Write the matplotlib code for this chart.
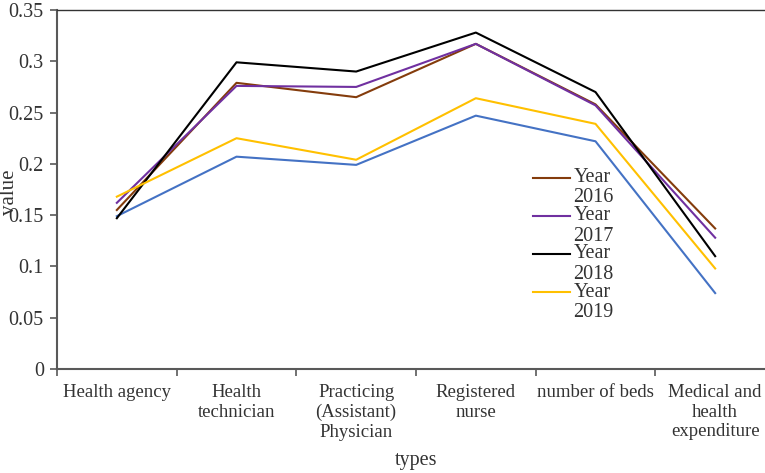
import numpy as np
import matplotlib
matplotlib.use('Agg')
import matplotlib.pyplot as plt
from matplotlib.legend_handler import HandlerLine2D

plt.rcParams['font.family'] = ['Liberation Serif', 'DejaVu Serif']

types = ['Health agency', 'Health\ntechnician', 'Practicing\n(Assistant)\nPhysician',
         'Registered\nnurse', 'number of beds', 'Medical and\nhealth\nexpenditure']

year_2015 = [0.149, 0.207, 0.199, 0.247, 0.222, 0.074]   # blue, not in legend
year_2016 = [0.155, 0.279, 0.265, 0.317, 0.258, 0.137]
year_2017 = [0.162, 0.276, 0.275, 0.317, 0.257, 0.128]
year_2018 = [0.147, 0.299, 0.290, 0.328, 0.270, 0.110]
year_2019 = [0.168, 0.225, 0.204, 0.264, 0.239, 0.098]

x = np.arange(len(types))


class UpperHandler(HandlerLine2D):
    # put the legend line next to the first text line
    def create_artists(self, legend, orig_handle, xdescent, ydescent, width,
                       height, fontsize, trans):
        arts = super().create_artists(legend, orig_handle, xdescent, ydescent,
                                      width, height, fontsize, trans)
        for a in arts:
            a.set_ydata(np.asarray(a.get_ydata()) + 0.5 * fontsize)
        return arts


fig = plt.figure(figsize=(7.65, 4.73), dpi=100)
ax = fig.add_axes([57/765, 104/473, 718/765, 359/473])

ax.plot(x, year_2015, color='#4472C4', lw=1.5)
l16, = ax.plot(x, year_2016, color='#843C0C', lw=1.5, label='Year\n2016')
l17, = ax.plot(x, year_2017, color='#7030A0', lw=1.5, label='Year\n2017')
l18, = ax.plot(x, year_2018, color='#000000', lw=1.5, label='Year\n2018')
l19, = ax.plot(x, year_2019, color='#FFC000', lw=1.5, label='Year\n2019')

ax.set_xlim(-0.5, 5.5)
ax.set_ylim(0, 0.35)
ax.set_yticks(np.arange(0, 0.351, 0.05))
ax.set_yticklabels(['0', '0.05', '0.1', '0.15', '0.2', '0.25', '0.3', '0.35'])

ax.set_xticks(np.arange(-0.5, 5.6, 1.0))
ax.set_xticklabels([])
ax.set_xticks(x, minor=True)
ax.set_xticklabels(types, minor=True, linespacing=1.2)
ax.tick_params(axis='x', which='minor', length=0, pad=11, labelsize=13.5, labelcolor='#333333')
ax.tick_params(axis='x', which='major', length=5, color='#595959', width=1.2)
ax.tick_params(axis='y', length=5, pad=4.5, labelsize=14.5, labelcolor='#333333',
               color='#595959', width=1.2)

for s in ['left', 'bottom']:
    ax.spines[s].set_color('#595959')
    ax.spines[s].set_linewidth(1.5)
ax.spines['top'].set_color('#333333')
ax.spines['top'].set_linewidth(1.0)
ax.spines['right'].set_visible(False)

ax.set_xlabel('types', fontsize=14.5, color='#333333', va='center')
ax.xaxis.set_label_coords(0.5, -0.256)
ax.set_ylabel('value', fontsize=15, color='#333333', va='center', ha='center')
ax.yaxis.set_label_coords(-0.066, 0.493)

leg = ax.legend(handles=[l16, l17, l18, l19], frameon=False, fontsize=14.5,
                loc='upper left', bbox_to_anchor=(533/765, 1 - 168/473),
                bbox_transform=fig.transFigure, borderpad=0, borderaxespad=0,
                handlelength=1.85, handletextpad=0.15, labelspacing=-0.06,
                handler_map={matplotlib.lines.Line2D: UpperHandler()})
for t in leg.get_texts():
    t.set_color('#333333')
    t.set_linespacing(1.1)

fig.savefig('out.png', dpi=100)
